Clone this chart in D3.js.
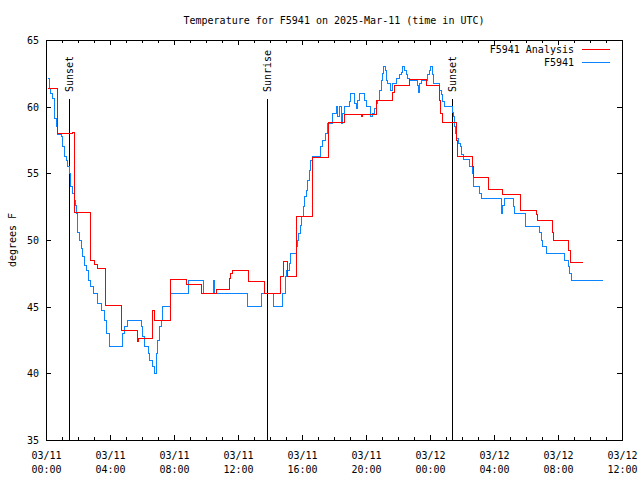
<!DOCTYPE html>
<html><head><meta charset="utf-8">
<script src="https://cdn.jsdelivr.net/npm/d3@7"></script>
<style>
body{margin:0;background:#fff}
svg{display:block;background:#fff}
text{font-family:"DejaVu Sans Mono","Liberation Mono",monospace;font-size:10px;fill:#000}
</style>
</head><body>
<svg id="c" width="640" height="480"></svg>
<script>
// ---------------- data ----------------
const titleText = "Temperature for F5941 on 2025-Mar-11 (time in UTC)";
const yAxisLabel = "degrees F";
const seriesNames = ["F5941 Analysis", "F5941"];
const seriesColors = ["#ff0000", "#0a84ff"];
const yTicks = [35, 40, 45, 50, 55, 60, 65];
const xTickHours = [0, 4, 8, 12, 16, 20, 24, 28, 32, 36];     // hours after 2025-03-11 00:00 UTC
const xMinorHours = [1,2,3,5,6,7,9,10,11,13,14,15,17,18,19,21,22,23,25,26,27,29,30,31,33,34,35];
const sunLabels = ["Sunset", "Sunrise", "Sunset"];
const sunHours = [1.42, 13.84, 25.38];

// [hours after 03/11 00:00 UTC, temperature F]  (step series)
const analysisSeries = [
  [0.10,61.4],[0.73,58.0],[1.67,58.1],[1.75,52.1],[2.75,48.45],[3.02,48.2],[3.23,47.9],
  [3.71,45.1],[4.73,43.2],[5.73,42.4],[5.81,42.6],[6.67,44.75],[6.77,44.0],[7.75,47.05],
  [8.75,46.7],[9.73,46.0],[10.67,46.3],[11.46,47.1],[11.56,47.5],[11.67,47.75],[12.67,46.9],
  [13.64,46.0],[14.64,47.3],[14.85,48.4],[15.1,47.3],[15.67,51.75],[16.67,56.2],[17.67,58.8],
  [18.64,59.4],[19.69,59.25],[19.79,59.4],[20.63,60.5],[21.67,61.05],[21.77,61.6],[22.71,62.05],
  [23.75,61.6],[24.58,60.5],[24.65,59.5],[24.75,58.8],[25.63,57.5],[25.69,56.3],[26.67,55.5],
  [26.71,54.7],[27.67,53.8],[28.5,53.6],[28.56,53.45],[29.64,52.25],[30.67,51.9],[30.73,51.45],
  [31.63,50.6],[31.69,50.0],[32.67,49.25],[32.75,48.3],[33.54,48.3]
];
const obsSeries = [
  [0.11,62.1],[0.21,61.4],[0.31,61.0],[0.42,60.6],[0.52,59.1],[0.63,58.5],[0.73,57.9],[0.94,57.75],
  [1.04,57.0],[1.14,56.25],[1.25,56.0],[1.36,55.5],[1.46,55.0],[1.52,54.5],[1.56,54.0],[1.67,53.5],
  [1.77,53.0],[1.83,52.6],[1.88,52.0],[1.98,50.6],[2.08,50.0],[2.19,49.4],[2.29,48.75],[2.39,48.1],
  [2.54,47.75],[2.64,47.0],[2.81,46.5],[2.94,46.0],[3.23,45.25],[3.44,44.75],[3.64,44.0],[3.75,43.0],
  [3.96,42.05],[4.79,43.0],[4.89,43.5],[5.11,43.95],[5.94,43.5],[6.04,42.75],[6.14,42.05],[6.39,41.5],
  [6.46,41.0],[6.67,40.5],[6.81,40.0],[6.88,41.5],[6.98,42.5],[7.08,43.5],[7.19,44.0],[7.29,45.0],
  [7.81,46.0],[8.92,46.95],[9.86,46.0],[10.46,46.95],[10.53,46.0],[12.61,45.05],[13.48,46.0],
  [14.21,45.05],[14.79,46.0],[14.94,47.25],[15.04,47.75],[15.21,48.25],[15.31,49.0],[15.63,49.5],
  [15.69,50.0],[15.79,50.5],[15.89,51.1],[15.98,51.75],[16.08,52.5],[16.14,53.25],[16.25,53.75],
  [16.36,54.5],[16.46,55.25],[16.56,56.0],[16.67,56.25],[17.14,57.0],[17.29,57.5],[17.44,58.0],
  [17.61,58.75],[17.92,59.5],[18.13,60.0],[18.23,59.25],[18.33,60.0],[18.44,58.75],[18.54,59.5],
  [18.64,60.0],[18.96,60.4],[19.06,61.0],[19.27,60.25],[19.38,59.9],[19.48,60.5],[19.58,61.0],
  [19.89,60.5],[20.00,60.0],[20.31,59.25],[20.42,59.5],[20.52,59.9],[20.63,60.25],[20.73,60.5],
  [20.83,61.25],[20.94,62.0],[21.04,62.5],[21.11,63.0],[21.19,62.75],[21.25,62.0],[21.36,61.75],
  [21.52,61.25],[21.67,61.75],[21.88,62.1],[22.08,62.4],[22.19,62.6],[22.29,63.0],[22.39,62.75],
  [22.50,62.4],[22.61,62.1],[22.71,62.0],[23.19,61.6],[23.27,61.1],[23.33,61.75],[23.44,62.0],
  [23.86,62.4],[23.96,62.75],[24.06,63.0],[24.13,62.4],[24.23,61.75],[24.58,61.25],[24.69,60.9],
  [24.79,60.4],[24.89,60.05],[25.38,59.6],[25.46,59.25],[25.52,58.5],[25.58,58.0],[25.67,57.6],
  [25.77,57.25],[25.88,57.0],[25.98,56.4],[26.08,56.05],[26.46,55.5],[26.63,55.0],[26.73,54.0],
  [27.08,53.5],[27.19,53.1],[28.44,52.0],[28.54,52.6],[28.63,53.1],[29.21,52.5],[29.27,52.0],
  [29.96,51.05],[30.83,50.6],[30.94,50.0],[31.04,49.5],[31.29,49.0],[32.39,48.5],[32.63,48.0],
  [32.71,47.5],[32.86,47.0],[34.79,47.0]
];

// ---------------- chart ----------------
const L = 46, R = 622, T = 40, B = 440;
const t0 = Date.UTC(2025, 2, 11, 0, 0);
const toDate = h => new Date(t0 + h * 3600000);

const x = d3.scaleUtc().domain([toDate(xTickHours[0]), toDate(xTickHours[xTickHours.length - 1])]).range([L, R]);
const y = d3.scaleLinear().domain([yTicks[0], yTicks[yTicks.length - 1]]).range([B, T]);

const svg = d3.select("#c");
const fmtDay = d3.utcFormat("%m/%d"), fmtTime = d3.utcFormat("%H:%M");

function clean(g) { g.select(".domain").remove(); g.selectAll("line").attr("stroke", "#000").attr("shape-rendering", "crispEdges"); }

// minor x ticks (bottom & top)
svg.append("g").attr("transform", `translate(0,${B})`)
  .call(d3.axisBottom(x).tickValues(xMinorHours.map(toDate)).tickSizeInner(-3).tickSizeOuter(0).tickFormat(""))
  .call(clean);
svg.append("g").attr("transform", `translate(0,${T})`)
  .call(d3.axisTop(x).tickValues(xMinorHours.map(toDate)).tickSizeInner(-3).tickSizeOuter(0).tickFormat(""))
  .call(clean);

// major x ticks + labels
const gx = svg.append("g").attr("transform", `translate(0,${B})`)
  .call(d3.axisBottom(x).tickValues(xTickHours.map(toDate)).tickSizeInner(-5).tickSizeOuter(0).tickFormat(d => fmtDay(d) + "|" + fmtTime(d)))
  .call(clean);
gx.selectAll(".tick text").each(function () {
  const parts = d3.select(this).text().split("|");
  const t = d3.select(this).text(null).attr("y", null).attr("dy", null)
    .attr("font-family", null).attr("font-size", null).attr("fill", "#000");
  t.append("tspan").attr("x", 0).attr("y", 18.5).text(parts[0]);
  t.append("tspan").attr("x", 0).attr("y", 32.5).text(parts[1]);
});
svg.append("g").attr("transform", `translate(0,${T})`)
  .call(d3.axisTop(x).tickValues(xTickHours.map(toDate)).tickSizeInner(-5).tickSizeOuter(0).tickFormat(""))
  .call(clean);

// y ticks
const gy = svg.append("g").attr("transform", `translate(${L},0)`)
  .call(d3.axisLeft(y).tickValues(yTicks).tickSizeInner(-5).tickSizeOuter(0).tickPadding(7))
  .call(clean);
gy.selectAll("text").attr("font-family", null).attr("font-size", null).attr("fill", "#000").attr("dy", "0.36em");
gy.attr("font-family", null).attr("font-size", null);
gx.attr("font-family", null).attr("font-size", null);
svg.append("g").attr("transform", `translate(${R},0)`)
  .call(d3.axisRight(y).tickValues(yTicks).tickSizeInner(-5).tickSizeOuter(0).tickFormat(""))
  .call(clean);

// border
svg.append("rect").attr("x", L).attr("y", T).attr("width", R - L).attr("height", B - T)
  .attr("fill", "none").attr("stroke", "#000").attr("shape-rendering", "crispEdges");

// sunrise / sunset markers
const sun = svg.append("g");
sunHours.forEach((h, i) => {
  const px = Math.round(x(toDate(h)));
  sun.append("line").attr("x1", px).attr("x2", px).attr("y1", B).attr("y2", 99)
    .attr("stroke", "#000").attr("shape-rendering", "crispEdges");
  sun.append("text").attr("transform", `translate(${px + 4},92) rotate(-90)`)
    .attr("text-anchor", "start").text(sunLabels[i]);
});

// series
const line = d3.line().x(d => x(toDate(d[0]))).y(d => y(d[1])).curve(d3.curveStepAfter);
svg.append("path").datum(obsSeries).attr("d", line)
  .attr("fill", "none").attr("stroke", seriesColors[1]).attr("stroke-width", 1).attr("shape-rendering", "crispEdges");
svg.append("path").datum(analysisSeries).attr("d", line)
  .attr("fill", "none").attr("stroke", seriesColors[0]).attr("stroke-width", 1).attr("shape-rendering", "crispEdges");

// legend
const leg = svg.append("g");
seriesNames.forEach((n, i) => {
  const yy = 49.5 + i * 13;
  leg.append("text").attr("x", 574).attr("y", yy).attr("dy", "0.36em").attr("text-anchor", "end").text(n);
  leg.append("line").attr("x1", 582).attr("x2", 610).attr("y1", yy).attr("y2", yy)
    .attr("stroke", seriesColors[i]).attr("shape-rendering", "crispEdges");
});

// title & y label
svg.append("text").attr("x", (L + R) / 2).attr("y", 24).attr("text-anchor", "middle").text(titleText);
svg.append("text").attr("transform", `translate(15.5,${(T + B) / 2}) rotate(-90)`)
  .attr("text-anchor", "middle").text(yAxisLabel);
</script>
</body></html>
